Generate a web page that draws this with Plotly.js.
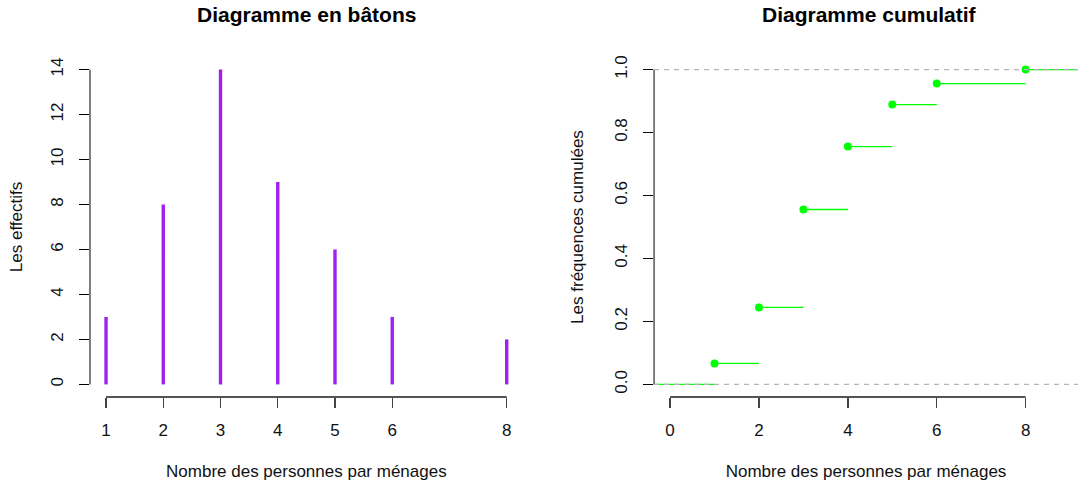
<!DOCTYPE html>
<html>
<head>
<meta charset="utf-8">
<script src="https://cdn.plot.ly/plotly-3.0.1.min.js"></script>
<style>html,body{margin:0;padding:0;background:#fff;}#chart{width:1078px;height:486px;}</style>
</head>
<body>
<div id="chart"></div>
<script>
// Data
const categories = [1, 2, 3, 4, 5, 6, 8];          // Nombre des personnes par ménage
const effectifs   = [3, 8, 14, 9, 6, 3, 2];         // Les effectifs
const leftXTicks  = [1, 2, 3, 4, 5, 6, 8];
const leftYTicks  = [0, 2, 4, 6, 8, 10, 12, 14];
const rightXTicks = [0, 2, 4, 6, 8];
const rightYTicks = [0, 0.2, 0.4, 0.6, 0.8, 1.0];

const total = effectifs.reduce((a, b) => a + b, 0);
const cumFreq = [];
effectifs.reduce((acc, v, i) => { cumFreq[i] = (acc + v) / total; return acc + v; }, 0);

// Sticks (type = 'h')
const stickX = [], stickY = [];
categories.forEach((c, i) => { stickX.push(c, c, null); stickY.push(0, effectifs[i], null); });

// Step function segments (ecdf, no verticals)
const xLeftEdge = -1, xRightEdge = 10;
const segX = [xLeftEdge, categories[0], null], segY = [0, 0, null];
categories.forEach((c, i) => {
  const next = i < categories.length - 1 ? categories[i + 1] : xRightEdge;
  segX.push(c, next, null); segY.push(cumFreq[i], cumFreq[i], null);
});

const FONT = 'Liberation Sans, Arial, sans-serif';
const green = '#00FF00';
const purple = '#A020F0';

const traces = [
  { type: 'scatter', mode: 'lines', x: stickX, y: stickY, xaxis: 'x', yaxis: 'y',
    line: { color: purple, width: 3.4 }, hoverinfo: 'skip', showlegend: false },
  { type: 'scatter', mode: 'lines', x: segX, y: segY, xaxis: 'x2', yaxis: 'y2',
    line: { color: green, width: 1.3 }, hoverinfo: 'skip', showlegend: false },
  { type: 'scatter', mode: 'markers', x: categories, y: cumFreq, xaxis: 'x2', yaxis: 'y2',
    marker: { color: green, size: 8 }, showlegend: false }
];

const tickFont = { family: FONT, size: 17, color: '#111' };
const titleFont = { family: FONT, size: 17, color: '#111' };

const baseX = {
  showgrid: false, zeroline: false, showline: false, ticks: 'outside', ticklen: 10,
  tickcolor: '#444', tickwidth: 1.4, tickfont: tickFont, ticklabelstandoff: 8, fixedrange: true
};
const baseY = {
  showgrid: false, zeroline: false, showline: false, ticks: 'outside', ticklen: 10,
  tickcolor: '#000', tickwidth: 1, tickfont: tickFont, tickangle: -90, ticklabelstandoff: 9, fixedrange: true
};

const layout = {
  width: 1078, height: 486,
  margin: { l: 90, r: 0, t: 57, b: 89, pad: 0 },
  paper_bgcolor: '#fff', plot_bgcolor: '#fff',
  showlegend: false,
  font: { family: FONT, color: '#111' },
  xaxis: Object.assign({}, baseX, {
    domain: [0, 0.438], range: [0.72, 8.28], tickmode: 'array', tickvals: leftXTicks,
    title: { text: 'Nombre des personnes par ménages', font: titleFont, standoff: 25 }
  }),
  yaxis: Object.assign({}, baseY, {
    domain: [0, 1], range: [-0.56, 14.56], tickmode: 'array', tickvals: leftYTicks, anchor: 'x',
    title: { text: 'Les effectifs', font: titleFont, standoff: 21 }
  }),
  xaxis2: Object.assign({}, baseX, {
    domain: [0.5709, 1], range: [-0.36, 9.177], tickmode: 'array', tickvals: rightXTicks, anchor: 'y2',
    title: { text: 'Nombre des personnes par ménages', font: titleFont, standoff: 25 }
  }),
  yaxis2: Object.assign({}, baseY, {
    domain: [0, 1], range: [-0.04, 1.04], tickmode: 'array', tickvals: rightYTicks, tickformat: '.1f', anchor: 'x2',
    title: { text: 'Les fréquences cumulées', font: titleFont, standoff: 24 }
  }),
  shapes: [
    // R-style axis lines spanning only the tick range
    { type: 'line', xref: 'x', yref: 'y domain', x0: leftXTicks[0], x1: leftXTicks[leftXTicks.length - 1], y0: 0, y1: 0, line: { color: '#555', width: 1.8 } },
    { type: 'line', xref: 'x domain', yref: 'y', x0: 0, x1: 0, y0: leftYTicks[0], y1: leftYTicks[leftYTicks.length - 1], line: { color: '#000', width: 1 } },
    { type: 'line', xref: 'x2', yref: 'y2 domain', x0: rightXTicks[0], x1: rightXTicks[rightXTicks.length - 1], y0: 0, y1: 0, line: { color: '#555', width: 1.8 } },
    { type: 'line', xref: 'x2 domain', yref: 'y2', x0: 0, x1: 0, y0: rightYTicks[0], y1: rightYTicks[rightYTicks.length - 1], line: { color: '#000', width: 1 } },
    // abline(h = c(0, 1), lty = 2, col = "gray70")
    { type: 'line', layer: 'above', xref: 'x2 domain', yref: 'y2', x0: 0, x1: 1, y0: 0, y1: 0, line: { color: '#B3B3B3', width: 1.3, dash: '5px,5px' } },
    { type: 'line', layer: 'above', xref: 'x2 domain', yref: 'y2', x0: 0, x1: 1, y0: 1, y1: 1, line: { color: '#B3B3B3', width: 1.3, dash: '5px,5px' } }
  ],
  annotations: [
    { text: '<b>Diagramme en bâtons</b>', xref: 'paper', yref: 'paper', x: 0.219, y: 1.124, xanchor: 'center', yanchor: 'middle',
      showarrow: false, font: { family: FONT, size: 21, color: '#000' } },
    { text: '<b>Diagramme cumulatif</b>', xref: 'paper', yref: 'paper', x: 0.789, y: 1.124, xanchor: 'center', yanchor: 'middle',
      showarrow: false, font: { family: FONT, size: 21, color: '#000' } }
  ]
};

Plotly.newPlot('chart', traces, layout, { staticPlot: true, displayModeBar: false });
</script>
</body>
</html>
